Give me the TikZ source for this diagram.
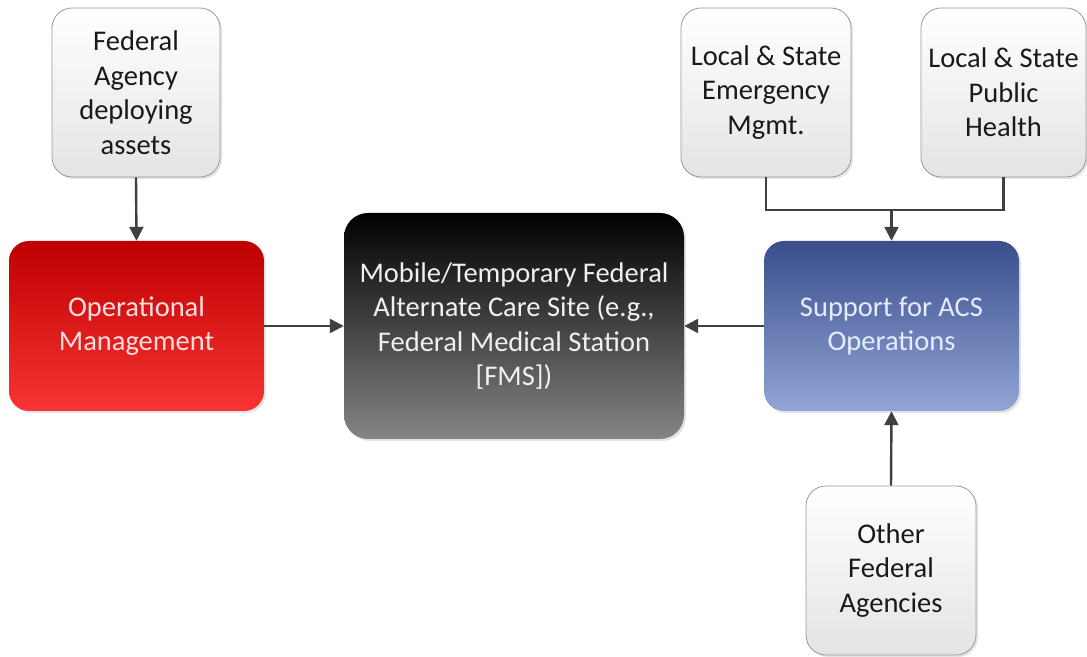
\documentclass[tikz,border=0pt]{standalone}
\usepackage{fontspec}
\setmainfont{Carlito}
\usetikzlibrary{arrows.meta,shadows,calc}
\definecolor{lightbot}{HTML}{E4E4E4}
\definecolor{lightborder}{HTML}{9A9A9A}
\definecolor{redtop}{HTML}{BE0000}
\definecolor{redbot}{HTML}{F83434}
\definecolor{blacktop}{HTML}{000000}
\definecolor{blackbot}{HTML}{858585}
\definecolor{bluetop}{HTML}{3A4E8C}
\definecolor{bluebot}{HTML}{92A5D6}
\definecolor{conn}{HTML}{404040}
\tikzset{
  base/.style={rounded corners=20pt, align=center, inner sep=0pt,
    font=\fontsize{28.5}{34.5}\selectfont,
    drop shadow={opacity=0.22, shadow xshift=2pt, shadow yshift=-2pt}},
  lightbox/.style={base, draw=lightborder, line width=0.8pt, shading=axis,
    top color=white, bottom color=lightbot, text=black!90},
  redbox/.style={base, shading=axis, top color=redtop, bottom color=redbot, text={rgb,255:red,255;green,222;blue,222}},
  darkbox/.style={base, rounded corners=24pt, shading=axis, top color=blacktop, bottom color=blackbot, text=white!94!black},
  bluebox/.style={base, shading=axis, top color=bluetop, bottom color=bluebot, text={rgb,255:red,230;green,236;blue,255}},
  conline/.style={draw=conn, line width=2.4pt},
  arr/.style={conline, -{Triangle[length=14pt,width=14pt]}}
}
\begin{document}
\begin{tikzpicture}[x=1pt,y=1pt]
\useasboundingbox (0,0) rectangle (1087,656);
\node[lightbox, minimum width=168pt, minimum height=169pt] (fed) at (136,563.5) {Federal\\Agency\\deploying\\assets};
\node[redbox, minimum width=255pt, minimum height=170pt] (op) at (136.5,330) {Operational\\Management};
\node[darkbox, minimum width=340pt, minimum height=226pt] (fms) at (514,330) {Mobile/Temporary Federal\\Alternate Care Site (e.g.,\\Federal Medical Station\\{[FMS]})};
\node[bluebox, minimum width=255pt, minimum height=170pt] (sup) at (891.5,330) {Support for ACS\\Operations};
\node[lightbox, minimum width=170pt, minimum height=169pt] (em) at (766,563.5) {Local \& State\\Emergency\\Mgmt.};
\node[lightbox, minimum width=165pt, minimum height=169pt] (ph) at (1003.5,563.5) {Local \& State\\Public\\Health};
\node[lightbox, minimum width=170pt, minimum height=169pt] (oth) at (891,85.5) {Other\\Federal\\Agencies};
\coordinate (j) at (891.5,446);
\draw[arr] (fed.south) -- (op.north);
\draw[arr] (op.east) -- (fms.west);
\draw[arr] (sup.west) -- (fms.east);
\draw[conline] (em.south) |- (j) -| (ph.south);
\draw[arr] (j) -- (sup.north);
\draw[arr] (oth.north) -- (sup.south);
\end{tikzpicture}
\end{document}
